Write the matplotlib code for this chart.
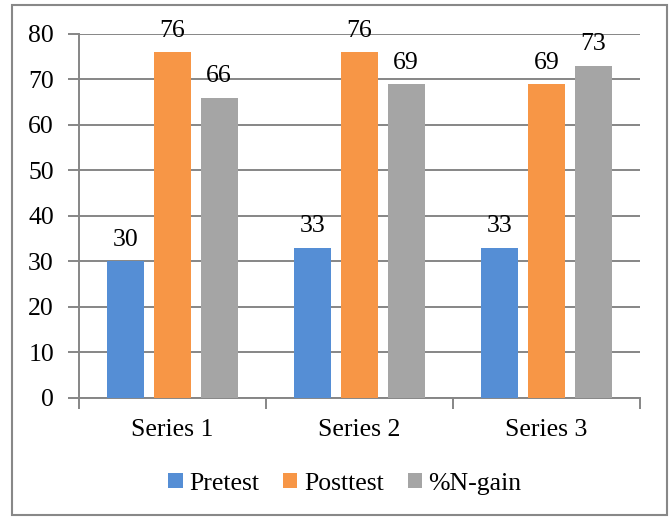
import numpy as np
import matplotlib.pyplot as plt
from matplotlib.patches import Rectangle

categories = ['Series 1', 'Series 2', 'Series 3']
pretest = [30, 33, 33]
posttest = [76, 76, 69]
n_gain = [66, 69, 73]
series_names = ['Pretest', 'Posttest', '%N-gain']
colors = ['#558ED5', '#F79646', '#A5A5A5']

plt.rcParams['font.family'] = ['Liberation Serif', 'DejaVu Serif']
grid_color = '#868686'
fs = 18.5

fig = plt.figure(figsize=(6.7, 5.18), dpi=100)
ax = fig.add_axes([0.1179, 0.2317, 0.8373, 0.7027])

x = np.arange(len(categories))
width = 0.2
offsets = [-0.25, 0, 0.25]
bar_groups = []
for vals, name, color, off in zip([pretest, posttest, n_gain], series_names, colors, offsets):
    bars = ax.bar(x + off, vals, width, color=color, label=name, zorder=3)
    bar_groups.append(bars)
    for bar, v in zip(bars, vals):
        ax.annotate(str(v), (bar.get_x() + bar.get_width() / 2, v),
                    xytext=(0, 7.5), textcoords='offset points',
                    ha='center', va='bottom', fontsize=fs, zorder=4)

ax.set_xlim(-0.5, 2.5)
ax.set_ylim(0, 80)
ax.set_yticks(range(0, 81, 10))
ax.yaxis.grid(True, color=grid_color, linewidth=1.4, zorder=0)
ax.tick_params(axis='y', length=8, width=1.4, color=grid_color, labelsize=fs, pad=10)

ax.set_xticks(x)
ax.set_xticklabels(categories)
ax.tick_params(axis='x', which='major', length=0, labelsize=fs, pad=15)
ax.set_xticks([-0.5, 0.5, 1.5, 2.5], minor=True)
ax.tick_params(axis='x', which='minor', length=8, width=1.4, color=grid_color)

for side in ['top', 'right']:
    ax.spines[side].set_visible(False)
for side in ['left', 'bottom']:
    ax.spines[side].set_color(grid_color)
    ax.spines[side].set_linewidth(1.4)

leg = fig.legend(handles=bar_groups, labels=series_names, loc='center',
                 bbox_to_anchor=(0.515, 0.066), ncol=3, frameon=False,
                 prop={'family': ['Liberation Serif', 'DejaVu Serif'], 'size': fs},
                 handlelength=0.55, handleheight=0.55,
                 handletextpad=0.25, columnspacing=0.95)

# outer chart border
fig.patches.append(Rectangle((12 / 670, 3 / 518), 655 / 670, 510 / 518,
                             transform=fig.transFigure, fill=False,
                             edgecolor='#888888', linewidth=1.5))

fig.savefig('out.png', dpi=100)
